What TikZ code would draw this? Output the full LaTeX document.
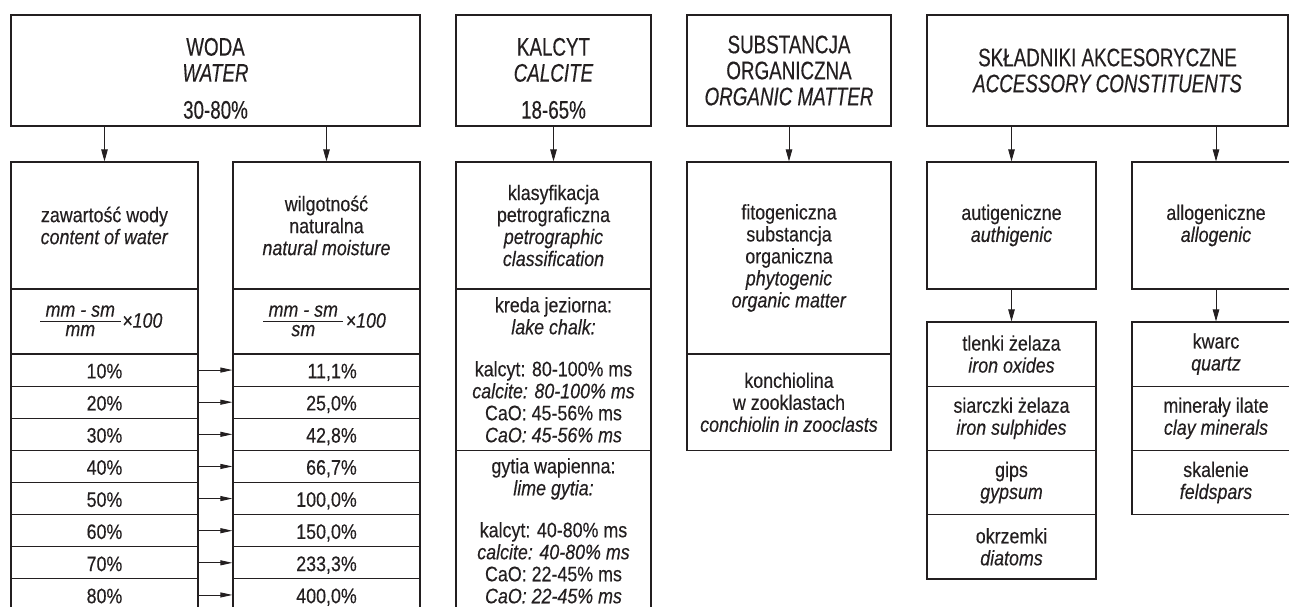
\documentclass[tikz,border=0pt]{standalone}
\usepackage{fontspec}
\setmainfont{Liberation Sans}[FakeStretch=0.85,FakeBold=0.3]
\newfontfamily\ttlfont{Liberation Sans}[FakeStretch=0.74,FakeBold=0.3]
\usetikzlibrary{arrows.meta}
\definecolor{ink}{RGB}{35,31,32}
\newcommand\SMf{\fontsize{21}{22}\selectfont}
\newcommand\TTLf{\ttlfont\fontsize{25.4}{26}\selectfont}
\newcommand\BX[7]{\node[#1, minimum width={(#5)-(#3)}, minimum height={(#6)-(#4)}] (#2) at ({((#3)+(#5))/2},{((#4)+(#6))/2}) {#7};}
\tikzset{
  bx/.style={draw=ink, line width=1.2pt, inner sep=0pt, text=ink, font=\SMf},
  mbx/.style={bx, align=center},
  tbx/.style={bx, align=center, font=\TTLf},
  rowc/.style={bx, text height=16.6pt, text depth=0pt},
  ttl/.style={align=center, font=\TTLf, text=ink, inner sep=0pt},
  num/.style={anchor=base east, font=\SMf, text=ink, inner sep=0pt},
  frm/.style={font=\SMf\itshape, text=ink, inner sep=0pt},
  fline/.style={draw=ink, line width=1pt},
  varr/.style={draw=ink, line width=0.9pt, -{Triangle[length=12pt,width=6.5pt]}},
  harr/.style={draw=ink, line width=0.9pt, -{Triangle[length=12pt,width=5pt]}}
}
\begin{document}
\begin{tikzpicture}[x=1pt,y=-1pt]
\useasboundingbox (0,0) rectangle (1289,606);
\clip (0,0) rectangle (1289,606);
% ---------- WODA ----------
\BX{tbx}{water}{11}{15}{420}{126}{}
\node[ttl] (watert) at ([yshift=-7.9pt]water.center) {WODA\\\textit{WATER}\\[11pt]30-80\%};
\BX{mbx}{content}{11}{162}{198}{289}{zawartość wody\\\textit{content of water}}
\BX{mbx}{moist}{233}{162}{420}{289}{wilgotność\\naturalna\\\textit{natural moisture}}
\BX{bx}{f1}{11}{289}{198}{354}{}
\BX{bx}{f2}{233}{289}{420}{354}{}
\node[frm, anchor=base] (f1n) at (80.3,316.7) {mm - sm};
\draw[fline] (40,321) -- (120.5,321);
\node[frm, anchor=base] (f1d) at (80.3,336.2) {mm};
\node[frm, anchor=base west] (f1x) at (122,327.7) {×100};
\node[frm, anchor=base] (f2n) at (303.3,316.7) {mm - sm};
\draw[fline] (263.3,321) -- (343.3,321);
\node[frm, anchor=base] (f2d) at (303.3,336.2) {sm};
\node[frm, anchor=base west] (f2x) at (345.5,327.7) {×100};
\foreach \a/\b [count=\i] in {10/{11,1},20/{25,0},30/{42,8},40/{66,7},50/{100,0},60/{150,0},70/{233,3},80/{400,0}} {
  \pgfmathsetmacro\ya{354+(\i-1)*32.125}
  \pgfmathsetmacro\yb{\ya+32.125}
  \pgfmathsetmacro\yt{\ya+24.3}
  \BX{rowc}{c\i}{11}{\ya}{198}{\yb}{\a\%}
  \BX{bx}{m\i}{233}{\ya}{420}{\yb}{}
  \node[num] (n\i) at (357,\yt) {\b\%};
  \draw[harr] (c\i.east) -- (m\i.west);
}
\draw[varr] (content.north |- water.south) -- (content.north);
\draw[varr] (moist.north |- water.south) -- (moist.north);
% ---------- KALCYT ----------
\BX{tbx}{calcite}{456}{15}{651}{126}{}
\node[ttl] (calcitet) at ([yshift=-7.9pt]calcite.center) {KALCYT\\\textit{CALCITE}\\[11pt]18-65\%};
\BX{mbx}{classif}{456}{162}{651}{289}{klasyfikacja\\petrograficzna\\\textit{petrographic}\\\textit{classification}}
\BX{mbx}{kreda}{456}{289}{651}{450.5}{kreda jeziorna:\\\textit{lake chalk:}\\[20pt]kalcyt: 80-100\% ms\\\textit{calcite: 80-100\% ms}\\CaO: 45-56\% ms\\\textit{CaO: 45-56\% ms}}
\BX{mbx}{gytia}{456}{450.5}{651}{611}{gytia wapienna:\\\textit{lime gytia:}\\[20pt]kalcyt: 40-80\% ms\\\textit{calcite: 40-80\% ms}\\CaO: 22-45\% ms\\\textit{CaO: 22-45\% ms}}
\draw[varr] (calcite.south) -- (classif.north);
% ---------- SUBSTANCJA ORGANICZNA ----------
\BX{tbx}{organic}{687}{15}{891}{126}{SUBSTANCJA\\ORGANICZNA\\\textit{ORGANIC MATTER}}
\BX{mbx}{phyto}{687}{162}{891}{354}{fitogeniczna\\substancja\\organiczna\\\textit{phytogenic}\\\textit{organic matter}}
\BX{mbx}{konch}{687}{354}{891}{450.5}{konchiolina\\w zooklastach\\\textit{conchiolin in zooclasts}}
\draw[varr] (organic.south) -- (phyto.north);
% ---------- SKLADNIKI AKCESORYCZNE ----------
\BX{tbx}{access}{927}{15}{1288}{126}{SKŁADNIKI AKCESORYCZNE\\\textit{ACCESSORY CONSTITUENTS}}
\BX{mbx}{auth}{927}{162}{1096}{289}{autigeniczne\\\textit{authigenic}}
\BX{mbx}{allo}{1132}{162}{1300}{289}{allogeniczne\\\textit{allogenic}}
\BX{mbx}{ox}{927}{322}{1096}{386.1}{tlenki żelaza\\\textit{iron oxides}}
\BX{mbx}{sul}{927}{386.1}{1096}{450.5}{siarczki żelaza\\\textit{iron sulphides}}
\BX{mbx}{gyp}{927}{450.5}{1096}{514.6}{gips\\\textit{gypsum}}
\BX{mbx}{dia}{927}{514.6}{1096}{578.9}{okrzemki\\\textit{diatoms}}
\BX{mbx}{qz}{1132}{322}{1300}{386.1}{kwarc\\\textit{quartz}}
\BX{mbx}{clay}{1132}{386.1}{1300}{450.5}{minerały ilate\\\textit{clay minerals}}
\BX{mbx}{fel}{1132}{450.5}{1300}{514.6}{skalenie\\\textit{feldspars}}
\draw[varr] (auth.north |- access.south) -- (auth.north);
\draw[varr] (allo.north |- access.south) -- (allo.north);
\draw[varr] (auth.south) -- (ox.north);
\draw[varr] (allo.south) -- (qz.north);
\end{tikzpicture}
\end{document}
